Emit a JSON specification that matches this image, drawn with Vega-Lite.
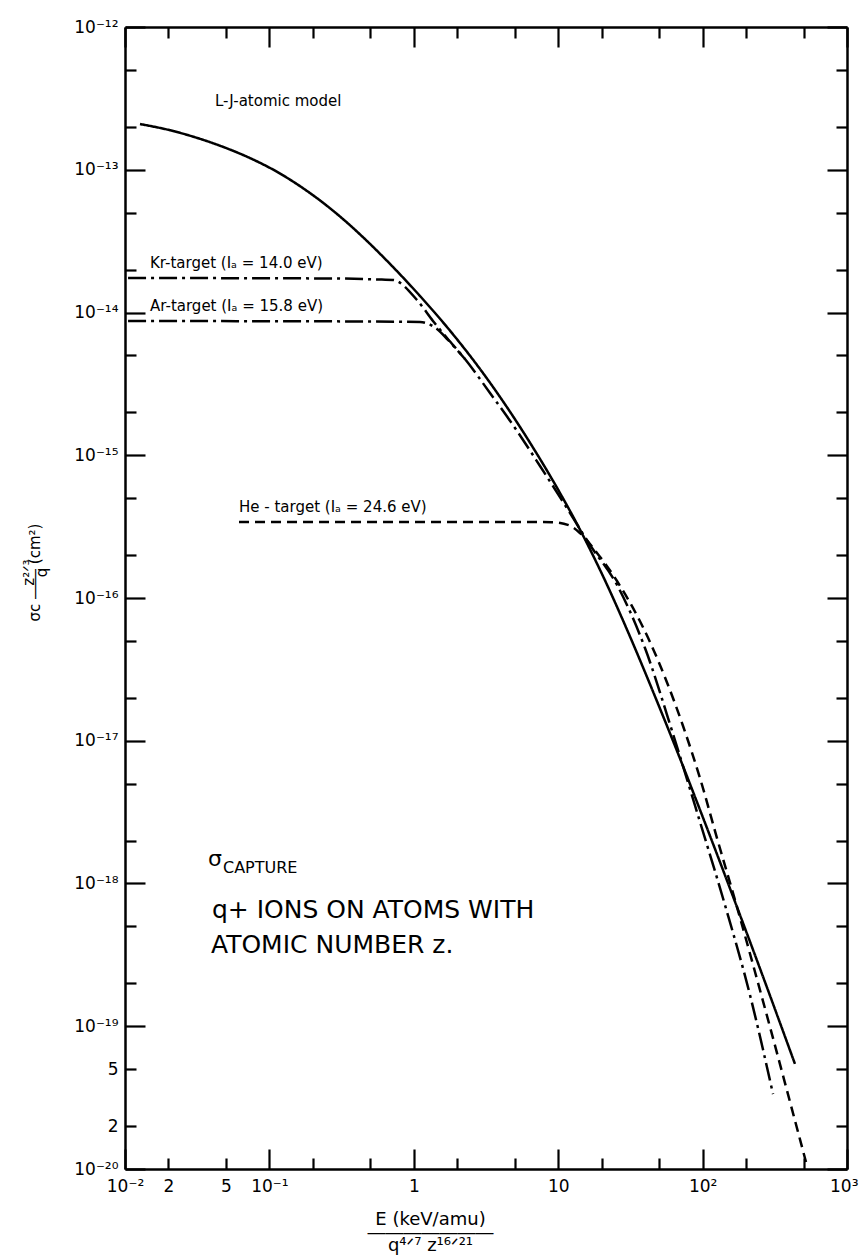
{
  "$schema": "https://vega.github.io/schema/vega-lite/v6.json",
  "width": 722,
  "height": 1142,
  "autosize": {"type": "none"},
  "padding": {"left": 125, "top": 27, "right": 12, "bottom": 87},
  "background": "white",
  "config": {
    "view": {"stroke": null},
    "font": "DejaVu Sans",
    "axis": {
      "grid": false,
      "domainColor": "black",
      "domainWidth": 2.5,
      "tickColor": "black",
      "tickWidth": 2.2,
      "labelColor": "black",
      "labelFont": "DejaVu Sans",
      "labelFontSize": 17,
      "labelOverlap": false,
      "labelFlush": false,
      "titleColor": "black",
      "titleFont": "DejaVu Sans",
      "titleFontWeight": "normal"
    },
    "text": {"font": "DejaVu Sans", "color": "black"}
  },
  "resolve": {"axis": {"x": "independent", "y": "independent"}},
  "layer": [
    {
      "data": {"values": [
        {"series": "LJ", "E": 0.0127, "s": 2.09e-13},
        {"series": "LJ", "E": 0.02049, "s": 1.892e-13},
        {"series": "LJ", "E": 0.03307, "s": 1.647e-13},
        {"series": "LJ", "E": 0.04926, "s": 1.429e-13},
        {"series": "LJ", "E": 0.07339, "s": 1.207e-13},
        {"series": "LJ", "E": 0.1094, "s": 9.85e-14},
        {"series": "LJ", "E": 0.1628, "s": 7.68e-14},
        {"series": "LJ", "E": 0.2427, "s": 5.73e-14},
        {"series": "LJ", "E": 0.3338, "s": 4.39e-14},
        {"series": "LJ", "E": 0.4448, "s": 3.37e-14},
        {"series": "LJ", "E": 0.6842, "s": 2.19e-14},
        {"series": "LJ", "E": 1.104, "s": 1.305e-14},
        {"series": "LJ", "E": 1.781, "s": 7.46e-15},
        {"series": "LJ", "E": 2.653, "s": 4.48e-15},
        {"series": "LJ", "E": 3.954, "s": 2.56e-15},
        {"series": "LJ", "E": 6.378, "s": 1.224e-15},
        {"series": "LJ", "E": 10.29, "s": 5.44e-16},
        {"series": "LJ", "E": 14.16, "s": 3.01e-16},
        {"series": "LJ", "E": 21.09, "s": 1.328e-16},
        {"series": "LJ", "E": 31.42, "s": 5.37e-17},
        {"series": "LJ", "E": 46.81, "s": 2.045e-17},
        {"series": "LJ", "E": 69.75, "s": 7.51e-18},
        {"series": "LJ", "E": 95.94, "s": 3.28e-18},
        {"series": "LJ", "E": 154.8, "s": 9.23e-19},
        {"series": "LJ", "E": 270.5, "s": 2.04e-19},
        {"series": "LJ", "E": 436, "s": 5.45e-20},
        {"series": "Kr", "E": 0.0105, "s": 1.745e-14},
        {"series": "Kr", "E": 0.3, "s": 1.73e-14},
        {"series": "Kr", "E": 0.6, "s": 1.70e-14},
        {"series": "Kr", "E": 0.718, "s": 1.69e-14},
        {"series": "Kr", "E": 1.052, "s": 1.224e-14},
        {"series": "Kr", "E": 1.358, "s": 8.72e-15},
        {"series": "Kr", "E": 1.698, "s": 6.63e-15},
        {"series": "Kr", "E": 2.262, "s": 4.72e-15},
        {"series": "Kr", "E": 3.371, "s": 2.73e-15},
        {"series": "Kr", "E": 5.022, "s": 1.552e-15},
        {"series": "Kr", "E": 7.482, "s": 8.41e-16},
        {"series": "Kr", "E": 11.15, "s": 4.48e-16},
        {"series": "Kr", "E": 16.61, "s": 2.35e-16},
        {"series": "Kr", "E": 25.54, "s": 1.234e-16},
        {"series": "Kr", "E": 39.9, "s": 4.46e-17},
        {"series": "Kr", "E": 62.4, "s": 1.115e-17},
        {"series": "Kr", "E": 95.9, "s": 2.7e-18},
        {"series": "Kr", "E": 142.9, "s": 7.07e-19},
        {"series": "Kr", "E": 212.9, "s": 1.656e-19},
        {"series": "Kr", "E": 307.4, "s": 3.35e-20},
        {"series": "Ar", "E": 0.0105, "s": 8.72e-15},
        {"series": "Ar", "E": 0.5, "s": 8.65e-15},
        {"series": "Ar", "E": 1.104, "s": 8.58e-15},
        {"series": "Ar", "E": 1.448, "s": 7.66e-15},
        {"series": "Ar", "E": 1.725, "s": 6.42e-15},
        {"series": "Ar", "E": 2.262, "s": 4.72e-15},
        {"series": "He", "E": 0.0616, "s": 3.41e-16},
        {"series": "He", "E": 9.0, "s": 3.40e-16},
        {"series": "He", "E": 12.0, "s": 3.22e-16},
        {"series": "He", "E": 14.16, "s": 2.85e-16},
        {"series": "He", "E": 18.56, "s": 2.07e-16},
        {"series": "He", "E": 25.54, "s": 1.315e-16},
        {"series": "He", "E": 43.2, "s": 4.92e-17},
        {"series": "He", "E": 73.2, "s": 1.268e-17},
        {"series": "He", "E": 95.9, "s": 5.48e-18},
        {"series": "He", "E": 125.8, "s": 2.08e-18},
        {"series": "He", "E": 173.1, "s": 6.84e-19},
        {"series": "He", "E": 230.7, "s": 2.4e-19},
        {"series": "He", "E": 293.0, "s": 9.88e-20},
        {"series": "He", "E": 372.1, "s": 4.0e-20},
        {"series": "He", "E": 520, "s": 1.119e-20}
      ]},
      "mark": {"type": "line", "color": "black", "strokeWidth": 2.5, "interpolate": "monotone", "clip": true},
      "encoding": {
        "x": {
          "field": "E", "type": "quantitative",
          "scale": {"type": "log", "domain": [0.01, 1000], "nice": false},
          "axis": {
            "orient": "bottom",
            "values": [0.01,0.02,0.05,0.1,0.2,0.5,1,2,5,10,20,50,100,200,500,1000],
            "labelExpr": "abs(datum.value/pow(10, round(log(datum.value)/LN10)) - 1) < 0.01 ? ['10⁻²','10⁻¹','1','10','10²','10³'][round(log(datum.value)/LN10) + 2] : (datum.value < 0.1 ? format(datum.value*100, '.0f') : '')",
            "tickSize": {"condition": {"test": "abs(datum.value/pow(10, round(log(datum.value)/LN10)) - 1) < 0.01", "value": -20}, "value": -11},
            "labelPadding": {"condition": {"test": "abs(datum.value/pow(10, round(log(datum.value)/LN10)) - 1) < 0.01", "value": 29}, "value": 20},
            "labelAlign": {"condition": {"test": "datum.value > 500", "value": "right"}, "value": "center"},
            "labelOffset": {"condition": {"test": "datum.value > 500", "value": 11}, "value": 0},
            "title": ["E (keV/amu)", "―――――――", "q⁴ᐟ⁷ z¹⁶ᐟ²¹"],
            "titleFontSize": 18,
            "titleLineHeight": 13,
            "titleX": 305,
            "titleY": 55,
            "titleAlign": "center",
            "titleBaseline": "alphabetic"
          }
        },
        "y": {
          "field": "s", "type": "quantitative",
          "scale": {"type": "log", "domain": [1e-20, 1e-12], "nice": false},
          "axis": {
            "orient": "left",
            "values": [1e-20,2e-20,5e-20,1e-19,2e-19,5e-19,1e-18,2e-18,5e-18,1e-17,2e-17,5e-17,1e-16,2e-16,5e-16,1e-15,2e-15,5e-15,1e-14,2e-14,5e-14,1e-13,2e-13,5e-13,1e-12],
            "labelExpr": "abs(datum.value/pow(10, round(log(datum.value)/LN10)) - 1) < 0.01 ? ['10⁻²⁰','10⁻¹⁹','10⁻¹⁸','10⁻¹⁷','10⁻¹⁶','10⁻¹⁵','10⁻¹⁴','10⁻¹³','10⁻¹²'][round(log(datum.value)/LN10) + 20] : (datum.value < 1e-19 ? format(datum.value*1e20, '.0f') : '')",
            "tickSize": {"condition": {"test": "abs(datum.value/pow(10, round(log(datum.value)/LN10)) - 1) < 0.01", "value": -20}, "value": -11},
            "labelPadding": {"condition": {"test": "abs(datum.value/pow(10, round(log(datum.value)/LN10)) - 1) < 0.01", "value": 27}, "value": 18},
            "title": ["z²ᐟ³", "\u00a0\u00a0\u00a0\u00a0\u00a0σc ―― (cm²)", "q"],
            "titleFontSize": 15,
            "titleLineHeight": 6.5,
            "titleX": -92,
            "titleY": 545,
            "titleAlign": "center",
            "titleBaseline": "alphabetic"
          }
        },
        "strokeDash": {
          "field": "series", "type": "nominal",
          "scale": {"domain": ["LJ", "Kr", "Ar", "He"], "range": [[1, 0], [18, 5, 3, 5], [18, 5, 3, 5], [10, 6]]},
          "legend": null
        }
      }
    },
    {
      "data": {"values": [
        {"label": "L-J-atomic model", "E": 0.042, "s": 2.8e-13},
        {"label": "Kr-target (Iₐ = 14.0 eV)", "E": 0.0149, "s": 2.05e-14},
        {"label": "Ar-target (Iₐ = 15.8 eV)", "E": 0.0149, "s": 1.02e-14},
        {"label": "He - target  (Iₐ = 24.6 eV)", "E": 0.0616, "s": 4.0e-16}
      ]},
      "mark": {"type": "text", "align": "left", "baseline": "alphabetic", "fontSize": 15},
      "encoding": {
        "x": {
          "field": "E", "type": "quantitative",
          "scale": {"type": "log", "domain": [0.01, 1000], "nice": false},
          "axis": {
            "orient": "top",
            "values": [0.01,0.02,0.05,0.1,0.2,0.5,1,2,5,10,20,50,100,200,500,1000],
            "labels": false,
            "tickSize": {"condition": {"test": "abs(datum.value/pow(10, round(log(datum.value)/LN10)) - 1) < 0.01", "value": -20}, "value": -11},
            "title": null
          }
        },
        "y": {
          "field": "s", "type": "quantitative",
          "scale": {"type": "log", "domain": [1e-20, 1e-12], "nice": false},
          "axis": {
            "orient": "right",
            "values": [1e-20,2e-20,5e-20,1e-19,2e-19,5e-19,1e-18,2e-18,5e-18,1e-17,2e-17,5e-17,1e-16,2e-16,5e-16,1e-15,2e-15,5e-15,1e-14,2e-14,5e-14,1e-13,2e-13,5e-13,1e-12],
            "labels": false,
            "tickSize": {"condition": {"test": "abs(datum.value/pow(10, round(log(datum.value)/LN10)) - 1) < 0.01", "value": -20}, "value": -11},
            "title": null
          }
        },
        "text": {"field": "label", "type": "nominal"}
      }
    },
    {
      "data": {"values": [
        {"label": "q+  IONS  ON  ATOMS  WITH", "E": 0.04, "s": 5.73e-19},
        {"label": "ATOMIC  NUMBER  z.", "E": 0.0394, "s": 3.26e-19}
      ]},
      "mark": {"type": "text", "align": "left", "baseline": "alphabetic", "fontSize": 25},
      "encoding": {
        "x": {"field": "E", "type": "quantitative", "scale": {"type": "log", "domain": [0.01, 1000], "nice": false}, "axis": null},
        "y": {"field": "s", "type": "quantitative", "scale": {"type": "log", "domain": [1e-20, 1e-12], "nice": false}, "axis": null},
        "text": {"field": "label", "type": "nominal"}
      }
    },
    {
      "data": {"values": [
        {"label": "σ", "E": 0.0376, "s": 1.33e-18}
      ]},
      "mark": {"type": "text", "align": "left", "baseline": "alphabetic", "fontSize": 22},
      "encoding": {
        "x": {"field": "E", "type": "quantitative", "scale": {"type": "log", "domain": [0.01, 1000], "nice": false}, "axis": null},
        "y": {"field": "s", "type": "quantitative", "scale": {"type": "log", "domain": [1e-20, 1e-12], "nice": false}, "axis": null},
        "text": {"field": "label", "type": "nominal"}
      }
    },
    {
      "data": {"values": [
        {"label": "CAPTURE", "E": 0.0477, "s": 1.185e-18}
      ]},
      "mark": {"type": "text", "align": "left", "baseline": "alphabetic", "fontSize": 16},
      "encoding": {
        "x": {"field": "E", "type": "quantitative", "scale": {"type": "log", "domain": [0.01, 1000], "nice": false}, "axis": null},
        "y": {"field": "s", "type": "quantitative", "scale": {"type": "log", "domain": [1e-20, 1e-12], "nice": false}, "axis": null},
        "text": {"field": "label", "type": "nominal"}
      }
    }
  ]
}
